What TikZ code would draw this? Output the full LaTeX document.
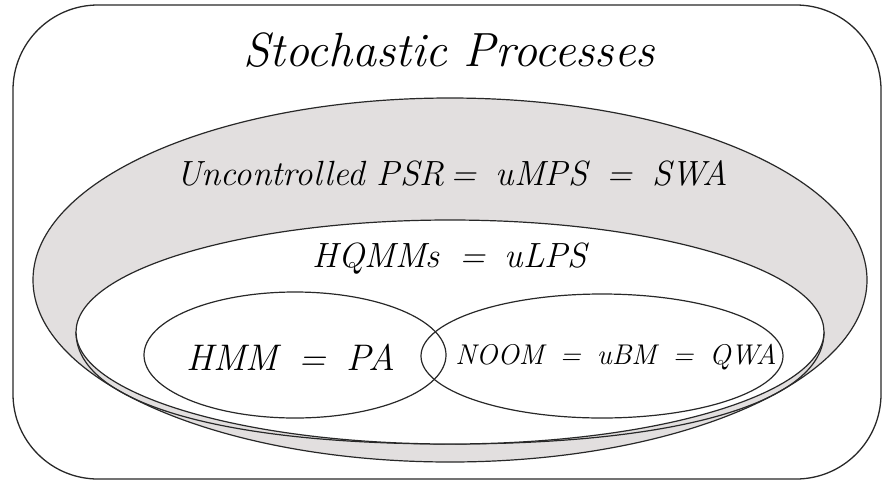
\documentclass[tikz,border=0pt]{standalone}
\usepackage{tikz}
\usepackage{xcolor}
\usetikzlibrary{positioning, calc}
\definecolor{cShade}{RGB}{226,223,223}
\definecolor{cLine}{RGB}{40,40,40}
\tikzset{
	frame/.style={draw=cLine, line width=1.3pt, rounded corners=85pt},
	region/.style={draw=cLine, line width=1.2pt},
	lbl/.style={inner sep=0pt, font=\itshape},
}

\begin{document}
\begin{tikzpicture}[x=1pt, y=-1pt]
	\useasboundingbox (0,0) rectangle (886,483);
	\draw[frame] (13,5) rectangle (881,479);
	\node[lbl, font=\fontsize{48}{56}\selectfont\itshape] (title) at (449,50) {Stochastic Processes};
	% nested regions
	\coordinate (psr) at (450,280);
	\coordinate (hqmm) at (450,332);
	\coordinate (hmm) at (295,355);
	\coordinate (noom) at (602,356);
	\draw[region, fill=cShade] (psr) ellipse [x radius=417, y radius=182];
	\draw[region] ($(hqmm)+(-374,0)$) coordinate (hqmmW)
		.. controls +(0,70) and +(-232,0) .. ($(hqmm)+(0,112)$) coordinate (hqmmS)
		.. controls +(232,0) and +(0,70) .. ($(hqmm)+(374,0)$) coordinate (hqmmE);
	\draw[region, fill=white] (hqmm) ellipse [x radius=374, y radius=112];
	\draw[region] (hmm) ellipse [x radius=151, y radius=63];
	\draw[region] (noom) ellipse [x radius=181, y radius=62];
	% labels
	\node[lbl, font=\fontsize{35}{42}\selectfont\itshape] (psrlbl) at (452,173) {Uncontrolled PSR\,=\;\;uMPS\;\;=\;\;SWA};
	\node[lbl, font=\fontsize{35}{42}\selectfont\itshape] (hqmmlbl) at (450,259) {HQMMs\;\;=\;\;uLPS};
	\node[lbl, font=\fontsize{37}{44}\selectfont\itshape] (hmmlbl) at (291,357) {HMM\;\;=\;\;PA};
	\node[lbl, font=\fontsize{28.5}{34}\selectfont\itshape] (noomlbl) at (616,357) {NOOM\;\;=\;\;uBM\;\;=\;\;QWA};
\end{tikzpicture}
\end{document}
